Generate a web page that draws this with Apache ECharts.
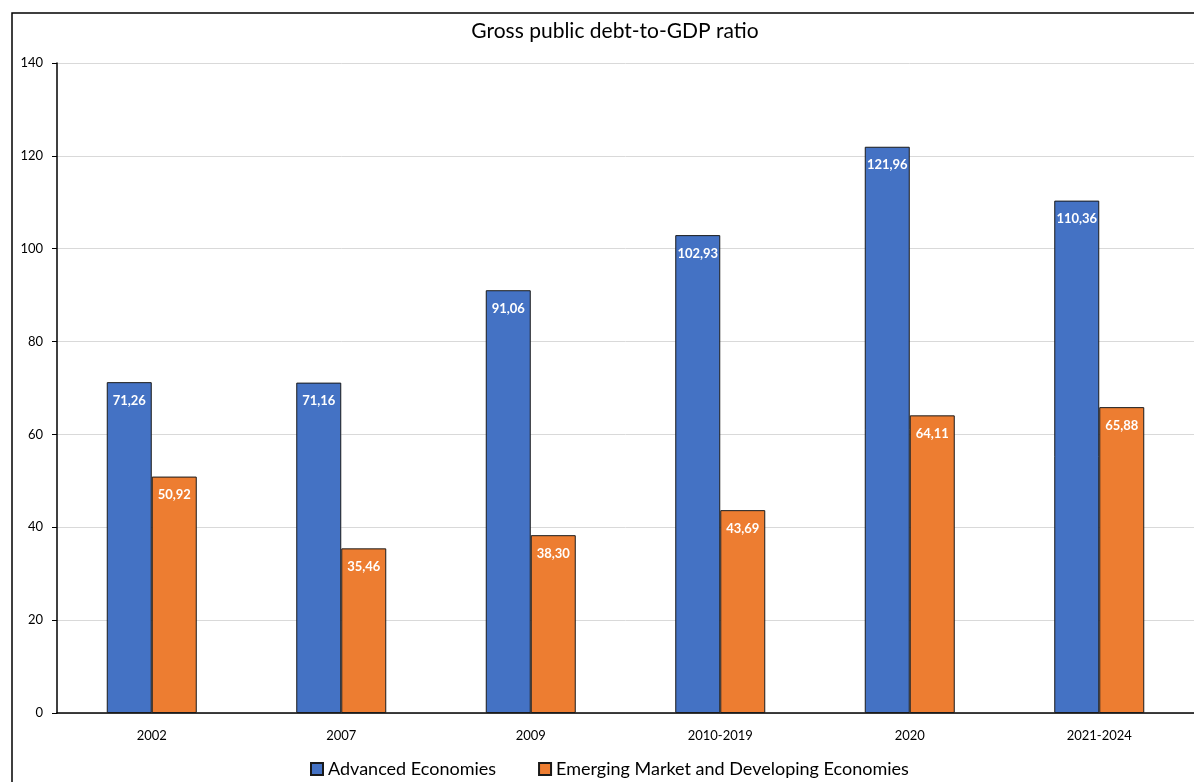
<!DOCTYPE html>
<html>
<head>
<meta charset="utf-8">
<script src="https://cdn.jsdelivr.net/npm/echarts@6/dist/echarts.min.js"></script>
<style>
html,body{margin:0;padding:0;background:#fff;}
#main{width:1194px;height:782px;}
</style>
</head>
<body>
<div id="main"></div>
<script>
var categories = ['2002', '2007', '2009', '2010-2019', '2020', '2021-2024'];
var advanced = [71.26, 71.16, 91.06, 102.93, 121.96, 110.36];
var emerging = [50.92, 35.46, 38.30, 43.69, 64.11, 65.88];
var yTicks = [0, 20, 40, 60, 80, 100, 120, 140];

var chart = echarts.init(document.getElementById('main'));
var font = 'Lato, "Open Sans", sans-serif';

function fmt(p){
	return p.value.toFixed(2).replace('.', ',');
}

chart.setOption({
	animation:false,
	textStyle:{fontFamily:font},
	title:{
		text:'Gross public debt-to-GDP ratio',
		left:610,
		textAlign:'center',
		top:16,
		textStyle:{fontSize:21,fontWeight:'normal',color:'#000',fontFamily:font}
	},
	legend:{
		bottom:-1,
		left:305,
		itemWidth:12,
		itemHeight:12,
		itemGap:42,
		icon:'rect',
		textStyle:{fontSize:18,color:'#000',fontFamily:font},
		data:['Advanced Economies','Emerging Market and Developing Economies']
	},
	graphic:[{
		type:'polyline',
		shape:{points:[[12,782],[12,13],[1194,13]]},
		style:{stroke:'#000',lineWidth:1.5,fill:null},
		silent:true
	}],
	grid:{left:57,right:-4,top:63,bottom:69},
	xAxis:{
		type:'category',
		data:categories,
		axisLine:{lineStyle:{color:'#000',width:1.5}},
		axisTick:{show:false},
		axisLabel:{color:'#000',fontSize:13,margin:16,fontFamily:font}
	},
	yAxis:{
		type:'value',
		min:yTicks[0],
		max:yTicks[yTicks.length-1],
		interval:20,
		axisLine:{show:true,lineStyle:{color:'#000',width:1.5}},
		axisTick:{show:true,length:5,lineStyle:{color:'#000'}},
		axisLabel:{color:'#000',fontSize:13,margin:14,fontFamily:font},
		splitLine:{lineStyle:{color:'#d9d9d9'}}
	},
	series:[
		{
			name:'Advanced Economies',
			type:'bar',
			data:advanced,
			barWidth:45,
			barGap:'0%',
			itemStyle:{color:'#4472c4',borderColor:'#1a1a1a',borderWidth:1},
			label:{show:true,position:'insideTop',distance:12,color:'#fff',fontWeight:'bold',fontSize:13,formatter:fmt}
		},
		{
			name:'Emerging Market and Developing Economies',
			type:'bar',
			data:emerging,
			barWidth:45,
			itemStyle:{color:'#ed7d31',borderColor:'#1a1a1a',borderWidth:1},
			label:{show:true,position:'insideTop',distance:12,color:'#fff',fontWeight:'bold',fontSize:13,formatter:fmt}
		}
	]
});
</script>
</body>
</html>
